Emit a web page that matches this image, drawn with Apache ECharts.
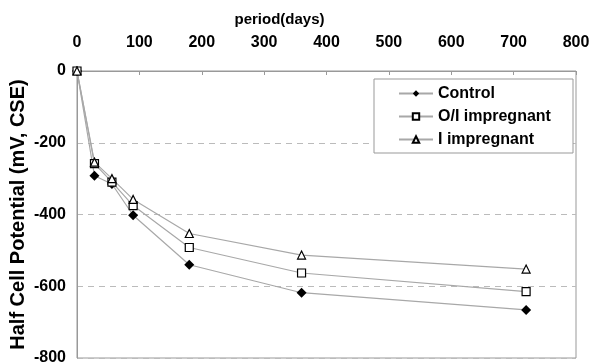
<!DOCTYPE html>
<html>
<head>
<meta charset="utf-8">
<script src="https://cdn.jsdelivr.net/npm/echarts@6/dist/echarts.min.js"></script>
<style>
  html, body { margin: 0; padding: 0; background: #fff; }
  #chart { width: 592px; height: 363px; }
</style>
</head>
<body>
<div id="chart"></div>
<script>
//period in days
const days = [0, 28, 56, 90, 180, 360, 720];

//half cell potential (mV, CSE) per series
const control = [0, -292, -315, -402, -540, -618, -666];
const oiImpregnant = [0, -258, -310, -375, -492, -563, -615];
const iImpregnant = [0, -254, -300, -358, -453, -513, -552];

const seriesNames = ["Control", "O/I impregnant", "I impregnant"];

const font = "'Liberation Sans', Arial, sans-serif";
const pair = vals => days.map((d, i) => [d, vals[i]]);

const chart = echarts.init(document.getElementById("chart"));

//common look of each line
function lineSeries(name, vals, symbol, filled) {
    return {
        name: name,
        type: "line",
        data: pair(vals),
        symbol: symbol,
        symbolSize: symbol === "diamond" ? 10 : 8,
        lineStyle: { color: "#a8a8a8", width: 1.2 },
        itemStyle: {
            color: filled ? "#000" : "#fff",
            borderColor: "#000",
            borderWidth: filled ? 0 : 1.2
        },
        emphasis: { disabled: true },
        z: 3
    };
}

chart.setOption({
    animation: false,
    backgroundColor: "#fff",
    grid: {
        left: 77, right: 16, top: 71, bottom: 5,
        containLabel: false,
        outerBoundsMode: "none",
        show: true, borderColor: "#999", borderWidth: 1
    },
    //legend frame
    graphic: [{
        type: "rect",
        shape: { x: 374, y: 79, width: 199, height: 74 },
        style: { fill: "#fff", stroke: "#999", lineWidth: 1 },
        z: 10
    }],
    legend: {
        orient: "vertical",
        left: 374, top: 79,
        padding: [6, 10, 6, 24],
        itemGap: 6,
        itemWidth: 34,
        itemHeight: 8,
        z: 11,
        textStyle: { fontFamily: font, fontWeight: "bold", fontSize: 16, lineHeight: 17, color: "#000" },
        data: seriesNames
    },
    xAxis: {
        type: "value",
        position: "top",
        min: 0, max: 800, interval: 100,
        name: "period(days)",
        nameLocation: "middle",
        nameGap: 44,
        nameMoveOverlap: false,
        nameTextStyle: { fontFamily: font, fontWeight: "bold", fontSize: 15, color: "#000", padding: [0, 94, 0, 0] },
        axisLine: { lineStyle: { color: "#999" } },
        axisTick: { inside: true, length: 4, lineStyle: { color: "#999" } },
        axisLabel: { fontFamily: font, fontWeight: "bold", fontSize: 16, color: "#000", margin: 20 },
        splitLine: { show: false }
    },
    yAxis: {
        type: "value",
        min: -800, max: 0, interval: 200,
        name: "Half Cell Potential (mV, CSE)",
        nameLocation: "middle",
        nameGap: 49,
        nameMoveOverlap: false,
        nameTextStyle: { fontFamily: font, fontWeight: "bold", fontSize: 20, color: "#000" },
        axisLine: { show: true, lineStyle: { color: "#999" } },
        axisTick: { show: false },
        axisLabel: { fontFamily: font, fontWeight: "bold", fontSize: 16, color: "#000", margin: 11 },
        splitLine: { lineStyle: { color: "#bbb", type: [6, 5] } }
    },
    series: [
        lineSeries(seriesNames[0], control, "diamond", true),
        lineSeries(seriesNames[1], oiImpregnant, "rect", false),
        lineSeries(seriesNames[2], iImpregnant, "triangle", false)
    ]
});
</script>
</body>
</html>
